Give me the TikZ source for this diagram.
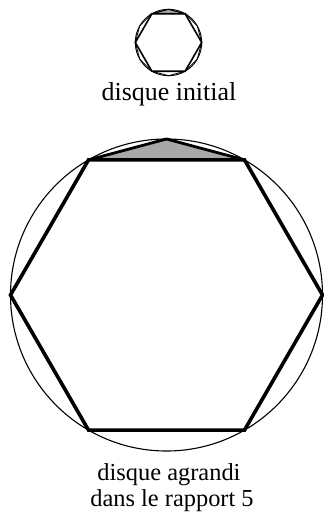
\documentclass[tikz,border=0pt]{standalone}
\usepackage{fontspec}
\setmainfont{Liberation Serif}
\definecolor{trigray}{gray}{0.66}
\begin{document}
\begin{tikzpicture}[x=1bp,y=-1bp,
  lbl/.style={font=\fontsize{24.5}{26}\selectfont, inner sep=0pt, anchor=base},
  circ/.style={line width=0.9bp},
  hexs/.style={line width=1.6bp, line join=miter},
  hexb/.style={line width=3.6bp, line join=miter},
  dodec/.style={line width=0.8bp},
  trib/.style={line width=2.8bp, line join=round}]
\useasboundingbox (0,0) rectangle (323,513);
% small disk
\begin{scope}[shift={(168.5,42.5)}]
  \def\r{33.2}
  \filldraw[fill=trigray, dodec] (240:\r) -- (270:\r) -- (300:\r) -- cycle;
  \draw[dodec] (0:\r) \foreach \a in {30,60,...,330} { -- (\a:\r) } -- cycle;
  \draw[circ] (0,0) circle (\r);
  \draw[hexs] (0:\r) \foreach \a in {60,120,...,300} { -- (\a:\r) } -- cycle;
\end{scope}
\node[lbl, font=\fontsize{26}{28}\selectfont] (init) at (169,100.5) {disque initial};
% large disk
\begin{scope}[shift={(166.5,295)}]
  \def\R{156}
  \fill[trigray] (240:\R) -- (270:\R) -- (300:\R) -- cycle;
  \draw[circ, line width=1.1bp] (0,0) circle (\R);
  \draw[trib] (240:\R) -- (270:\R) -- (300:\R);
  \draw[hexb] (0:\R) \foreach \a in {60,120,...,300} { -- (\a:\R) } -- cycle;
\end{scope}
\node[lbl] (agr1) at (169,480) {disque agrandi};
\node[lbl] (agr2) at (172,506) {dans le rapport 5};
\end{tikzpicture}
\end{document}
